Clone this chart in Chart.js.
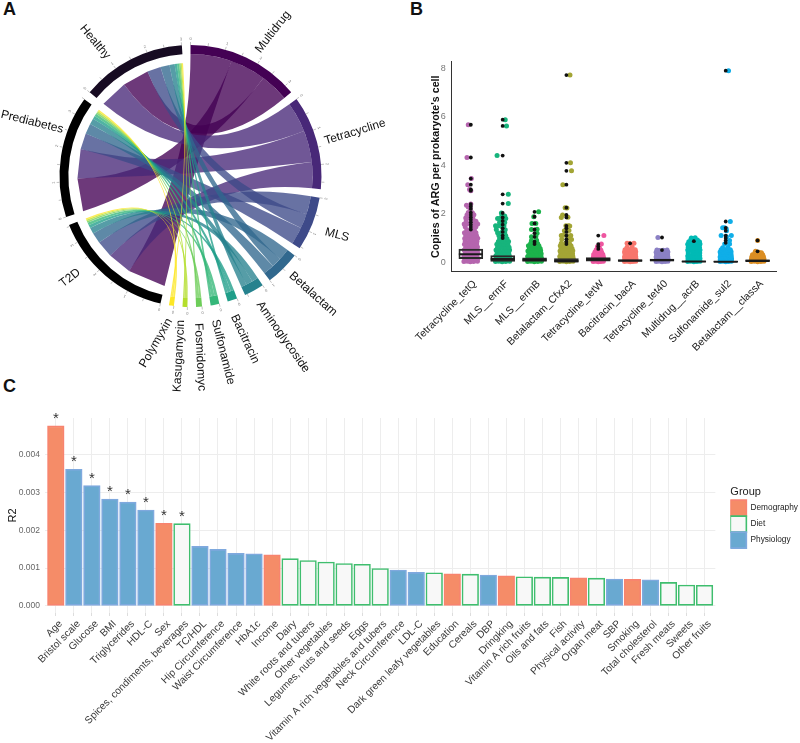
<!DOCTYPE html>
<html>
<head>
<meta charset="utf-8">
<title>ARG figure</title>
<script src="https://cdn.jsdelivr.net/npm/chart.js@4"></script>
<style>
  html, body { margin: 0; padding: 0; background: #fff; }
  body { position: relative; width: 800px; height: 743px; overflow: hidden; font-family: "Liberation Sans", Arial, sans-serif; }
  canvas { position: absolute; }
  .panel { position: absolute; font-size: 18px; font-weight: bold; line-height: 18px; color: #111; }
</style>
</head>
<body>
<div class="panel" style="left:3px;top:0">A</div>
<div class="panel" style="left:410px;top:0">B</div>
<div class="panel" style="left:3px;top:377px">C</div>
<canvas id="chord-chart" width="400" height="400" style="left:0;top:0"></canvas>
<canvas id="arg-chart" width="400" height="330" style="left:400px;top:40px"></canvas>
<canvas id="r2-chart" width="808" height="343" style="left:0;top:400px"></canvas>
<script>
'use strict';

// ------- Panel A data ------- //
const argNames = ['Multidrug', 'Tetracycline', 'MLS', 'Betalactam', 'Aminoglycoside', 'Bacitracin', 'Sulfonamide', 'Fosmidomyc', 'Kasugamycin', 'Polymyxin'];
const groupNames = ['T2D', 'Prediabetes', 'Healthy'];
const t2dLinks = [1.27, 0.8, 0.56, 0.36, 0.2, 0.1, 0.09, 0.06, 0.05, 0.05];
const prediabetesLinks = [1.1, 0.97, 0.54, 0.34, 0.2, 0.1, 0.09, 0.06, 0.05, 0.05];
const healthyLinks = [0.88, 0.93, 0.45, 0.3, 0.17, 0.08, 0.07, 0.05, 0.04, 0.04];
const sectorGap = 0.245;
const argColors = ['#440154', '#482878', '#3E4A89', '#31688E', '#26828E', '#1F9E89', '#35B779', '#6DCD59', '#B4DE2C', '#FDE725'];
const groupColors = ['#000000', '#000000', '#170b22'];

// ------- Panel B data ------- //
const geneNames = ['Tetracycline_tetQ', 'MLS__ermF', 'MLS__ermB', 'Betalactam_CfxA2', 'Tetracycline_tetW', 'Bacitracin_bacA', 'Tetracycline_tet40', 'Multidrug__acrB', 'Sulfonamide_sul2', 'Betalactam__classA'];
const geneColors = ['#B565AE', '#17B47C', '#1CB24B', '#A3A535', '#EE56A0', '#F8766D', '#8B80C4', '#00BAB5', '#0FAEE8', '#DB8E23'];
const boxLow = [0.15, 0.03, 0.03, 0.0, 0.04, 0.04, 0.05, 0.01, 0.01, 0.03];
const boxMedian = [0.33, 0.13, 0.1, 0.05, 0.12, 0.07, 0.09, 0.03, 0.02, 0.06];
const boxHigh = [0.54, 0.27, 0.18, 0.15, 0.19, 0.1, 0.13, 0.04, 0.04, 0.1];

// [jitter, copies], one list per gene
const tetQPoints = [[-.27,.03],[-.14,.04],[-.02,.02],[.11,.03],[.26,.04],[-.24,.14],[-.09,.15],[.05,.13],[.18,.14],[.28,.15],[-.27,.26],[-.13,.27],[.02,.25],[.14,.26],[.24,.27],[-.22,.38],[-.07,.39],[.09,.37],[.2,.38],[.27,.39],[-.26,.5],[-.15,.51],[0,.49],[.12,.5],[.25,.51],[-.2,.62],[-.06,.63],[.07,.61],[.19,.62],[.26,.63],[-.25,.74],[-.12,.75],[.03,.73],[.15,.74],[.23,.75],[-.22,.86],[-.05,.87],[.1,.85],[.24,.86],[-.24,.98],[-.1,.99],[.04,.97],[.17,.98],[.27,.99],[-.2,1.1],[-.03,1.11],[.12,1.09],[.22,1.1],[-.25,1.22],[-.13,1.23],[.06,1.21],[.2,1.22],[-.16,1.34],[-.02,1.35],[.14,1.33],[-.22,1.46],[.02,1.47],[.1,1.45],[.2,1.46],[-.26,1.58],[-.13,1.59],[.15,1.57],[.27,1.58],[-.18,1.7],[.04,1.71],[.2,1.69],[-.2,1.82],[-.12,1.83],[.08,1.81],[-.15,1.95],[-.05,1.94],[.12,1.96],[-.1,2.05],[.06,2.04],[-.17,2.35],[-.1,2.28],[-.02,2.22],[0,2.4],[-.12,3.2],[-.05,3.0],[0,2.95],[.02,3.45],[-.15,4.32],[-.1,5.67]];
const ermFPoints = [[-.28,.03],[-.15,.04],[-.02,.02],[.12,.03],[.27,.04],[-.25,.14],[-.08,.15],[.06,.13],[.18,.14],[.29,.15],[-.27,.26],[-.12,.27],[.02,.25],[.15,.26],[.26,.27],[-.22,.38],[-.06,.39],[.1,.37],[.24,.38],[-.26,.5],[-.13,.51],[.03,.49],[.17,.5],[.27,.51],[-.2,.62],[-.04,.63],[.12,.61],[.25,.62],[-.23,.74],[-.1,.75],[.05,.73],[.2,.74],[-.17,.86],[-.02,.87],[.14,.85],[.23,.86],[-.12,.98],[.03,.99],[.17,.97],[-.15,1.1],[.05,1.11],[.12,1.09],[-.2,1.22],[-.05,1.23],[.08,1.21],[-.25,1.35],[.02,1.36],[.1,1.34],[-.28,1.5],[-.18,1.51],[-.08,1.49],[.05,1.5],[-.12,1.65],[.02,1.66],[.08,1.64],[-.2,1.8],[-.1,1.81],[.05,1.79],[.12,1.8],[-.03,1.92],[.08,1.91],[-.05,2.03],[.22,2.42],[.22,2.8],[-.22,4.4],[.15,5.62],[.1,5.88]];
const ermBPoints = [[-.27,.03],[-.14,.04],[-.01,.02],[.13,.03],[.27,.04],[-.25,.13],[-.08,.14],[.06,.12],[.2,.13],[.28,.14],[-.27,.24],[-.12,.25],[.02,.23],[.16,.24],[.25,.25],[-.22,.35],[-.05,.36],[.1,.34],[.26,.35],[-.26,.46],[-.14,.47],[.03,.45],[.18,.46],[.24,.47],[-.2,.57],[-.06,.58],[.1,.56],[.22,.57],[-.24,.68],[-.1,.69],[.05,.67],[.17,.68],[-.15,.78],[.03,.79],[.12,.77],[-.12,.9],[.08,.91],[-.12,1.05],[.05,1.06],[.1,1.2],[-.12,1.35],[.1,1.36],[-.1,1.6],[.05,1.6],[-.03,1.88],[.16,2.08]];
const cfxA2Points = [[-.26,.03],[-.13,.04],[0,.02],[.13,.03],[.26,.04],[-.24,.13],[-.09,.14],[.05,.12],[.18,.13],[.27,.14],[-.26,.24],[-.12,.25],[.02,.23],[.15,.24],[.25,.25],[-.22,.35],[-.05,.36],[.09,.34],[.24,.35],[-.25,.46],[-.13,.47],[.03,.45],[.17,.46],[.25,.47],[-.21,.57],[-.05,.58],[.1,.56],[.22,.57],[-.24,.68],[-.1,.69],[.05,.67],[.18,.68],[-.2,.78],[-.03,.79],[.12,.77],[-.18,.95],[.12,.96],[.2,.94],[-.2,1.1],[-.1,1.11],[.05,1.09],[.17,1.1],[-.08,1.3],[.1,1.31],[-.02,1.5],[.08,1.51],[.13,1.49],[-.2,1.85],[.06,1.86],[-.15,1.95],[-.05,2.25],[.02,2.24],[-.14,3.2],[.2,3.77],[.16,4.1],[.14,7.72]];
const tetWPoints = [[-.2,.03],[-.1,.04],[0,.02],[.1,.03],[.2,.04],[-.21,.12],[-.07,.13],[.05,.11],[.16,.12],[.22,.13],[-.19,.22],[-.1,.23],[.02,.21],[.12,.22],[.2,.23],[-.18,.32],[-.05,.33],[.08,.31],[.18,.32],[-.13,.42],[0,.43],[.13,.41],[-.08,.52],[.05,.53],[.1,.51],[-.02,.6],[.04,.61],[-.03,.65],[.12,.75],[.22,1.1]];
const bacAPoints = [[-.22,.03],[-.11,.04],[0,.02],[.11,.03],[.22,.04],[-.21,.12],[-.07,.13],[.05,.11],[.16,.12],[.23,.13],[-.22,.22],[-.1,.23],[.02,.21],[.13,.22],[.22,.23],[-.2,.32],[-.05,.33],[.08,.31],[.21,.32],[-.22,.42],[-.11,.43],[.03,.41],[.14,.42],[.22,.43],[-.2,.52],[-.06,.53],[.08,.51],[.2,.52],[-.12,.62],[.08,.63],[-.12,.78],[-.02,.77],[.15,.78]];
const tet40Points = [[-.23,.03],[-.12,.04],[0,.02],[.12,.03],[.23,.04],[-.22,.12],[-.07,.13],[.05,.11],[.16,.12],[.24,.13],[-.23,.22],[-.1,.23],[.02,.21],[.13,.22],[.23,.23],[-.21,.32],[-.05,.33],[.08,.31],[.22,.32],[-.23,.41],[-.11,.42],[.03,.4],[.14,.41],[.23,.42],[-.2,.5],[-.1,.48],[.05,.49],[.2,.5],[-.16,1.02]];
const acrBPoints = [[-.24,.03],[-.12,.04],[0,.02],[.12,.03],[.24,.04],[-.23,.14],[-.07,.15],[.05,.13],[.16,.14],[.24,.15],[-.24,.26],[-.1,.27],[.02,.25],[.13,.26],[.23,.27],[-.22,.38],[-.05,.39],[.08,.37],[.23,.38],[-.24,.5],[-.11,.51],[.03,.49],[.14,.5],[.24,.51],[-.22,.62],[-.06,.63],[.08,.61],[.22,.62],[-.24,.74],[-.1,.75],[.05,.73],[.16,.74],[.24,.75],[-.2,.85],[-.07,.86],[.1,.84],[.22,.85],[-.12,.93],[.02,.94],[.14,.92],[-.1,1.0],[.05,1.01]];
const sul2Points = [[-.22,.03],[-.11,.04],[0,.02],[.11,.03],[.22,.04],[-.21,.12],[-.07,.13],[.05,.11],[.16,.12],[.23,.13],[-.22,.22],[-.1,.23],[.02,.21],[.13,.22],[.22,.23],[-.2,.32],[-.05,.33],[.08,.31],[.21,.32],[-.22,.42],[-.11,.43],[.03,.41],[.14,.42],[.21,.43],[-.18,.52],[-.06,.53],[.08,.51],[.18,.52],[-.12,.6],[.08,.61],[-.04,.75],[.15,.75],[.15,.9],[-.18,1.1],[.03,1.05],[.22,1.1],[.03,1.3],[-.12,1.42],[-.04,1.42],[.02,1.38],[.18,1.68],[.11,7.9]];
const classAPoints = [[-.25,.03],[-.13,.04],[0,.02],[.13,.03],[.25,.04],[-.24,.12],[-.08,.13],[.05,.11],[.17,.12],[.25,.13],[-.23,.22],[-.1,.23],[.02,.21],[.13,.22],[.23,.23],[-.2,.31],[-.05,.32],[.08,.3],[.2,.31],[-.1,.4],[.05,.41],[.15,.39],[-.08,.45],[0,.9]];
const genePoints = [tetQPoints, ermFPoints, ermBPoints, cfxA2Points, tetWPoints, bacAPoints, tet40Points, acrBPoints, sul2Points, classAPoints];

const geneOutliers = [
  [5.67, 4.32, 3.45, 3.2, 3.0, 2.95, 2.4, 2.3, 2.2, 2.05, 1.95, 1.85, 1.75, 1.65, 1.55, 1.45, 1.35],
  [5.88, 5.62, 4.4, 2.8, 2.42, 2.03, 1.85, 1.7, 1.55, 1.4, 1.25, 1.1, 1.0],
  [2.08, 1.88, 1.6, 1.35, 1.2, 1.05, 0.85, 0.75],
  [7.72, 4.1, 3.77, 3.2, 2.25, 1.95, 1.85, 1.5, 1.4, 1.25, 1.1, 0.95, 0.85, 0.75],
  [1.1, 0.75, 0.65, 0.55],
  [0.78],
  [1.02, 0.5],
  [0.87],
  [7.9, 1.68, 1.42, 1.3, 1.1, 1.0, 0.9, 0.8],
  [0.9, 0.45],
];

// ------- Panel C data ------- //
const factorNames = ['Age', 'Bristol scale', 'Glucose', 'BMI', 'Triglycerides', 'HDL-C', 'Sex', 'Spices, condiments, beverages', 'TC/HDL', 'Hip Circumference', 'Waist Circumference', 'HbA1c', 'Income', 'Dairy', 'White roots and tubers', 'Other vegetables', 'Legumes, nuts and seeds', 'Eggs', 'Vitamin A rich vegetables and tubers', 'Neck Circumference', 'LDL-C', 'Dark green leafy vegetables', 'Education', 'Cereals', 'DBP', 'Dringking', 'Vitamin A rich fruits', 'Oils and fats', 'Fish', 'Physical activity', 'Organ meat', 'SBP', 'Smoking', 'Total cholesterol', 'Fresh meats', 'Sweets', 'Other fruits'];
const factorR2 = [0.00477, 0.00362, 0.00319, 0.00283, 0.00275, 0.00254, 0.00219, 0.00218, 0.001575, 0.001495, 0.00139, 0.00138, 0.001355, 0.00125, 0.0012, 0.00116, 0.00112, 0.0011, 0.00099, 0.00095, 0.000885, 0.000875, 0.00085, 0.00084, 0.000815, 0.000795, 0.00077, 0.00076, 0.000755, 0.000745, 0.000735, 0.00071, 0.0007, 0.00069, 0.00062, 0.00055, 0.000545];
const factorGroups = ['Demography', 'Physiology', 'Physiology', 'Physiology', 'Physiology', 'Physiology', 'Demography', 'Diet', 'Physiology', 'Physiology', 'Physiology', 'Physiology', 'Demography', 'Diet', 'Diet', 'Diet', 'Diet', 'Diet', 'Diet', 'Physiology', 'Physiology', 'Diet', 'Demography', 'Diet', 'Physiology', 'Demography', 'Diet', 'Diet', 'Diet', 'Demography', 'Diet', 'Physiology', 'Demography', 'Physiology', 'Diet', 'Diet', 'Diet'];
const significantCount = 8;
const r2Ticks = [0, 0.001, 0.002, 0.003, 0.004];
const copiesTicks = [0, 2, 4, 6, 8];

Chart.defaults.font.family = '"Liberation Sans", Arial, sans-serif';
Chart.defaults.animation = false;
Chart.defaults.events = [];
Chart.defaults.plugins.tooltip.enabled = false;
Chart.defaults.plugins.legend.display = false;

const range = (n) => Array.from({ length: n }, (_, i) => i);

// ------- Chord Chart ------- //
const argValues = argNames.map((_, i) => t2dLinks[i] + prediabetesLinks[i] + healthyLinks[i]);
const sum = (list) => list.reduce((a, b) => a + b, 0);
const groupValues = [sum(t2dLinks), sum(prediabetesLinks), sum(healthyLinks)];
const sectorNames = argNames.concat(groupNames);
const sectorValues = argValues.concat(groupValues);
const sectorColors = argColors.concat(groupColors);
const groupLinks = [t2dLinks, prediabetesLinks, healthyLinks];

// clockwise order of ribbons inside each sector (indexes into groupNames / argNames)
const argSideOrder = [[0, 1, 2], [2, 1, 0], [0, 2, 1], [0, 2, 1], [0, 1, 2], [0, 1, 2], [0, 1, 2], [0, 1, 2], [0, 1, 2], [0, 1, 2]];
const groupSideOrder = [range(10), range(10), [1, 0, 2, 3, 4, 5, 6, 7, 8, 9]];

// label centre and rotation for each sector name
const sectorLabels = {
  Multidrug: [273, 32, -52], Tetracycline: [355, 132, -17], MLS: [337, 235, 15], Betalactam: [313, 294, 42],
  Aminoglycoside: [283, 337, 55], Bacitracin: [245, 339, 65], Sulfonamide: [223, 352, 76], Fosmidomyc: [200, 357, 87],
  Kasugamycin: [179, 356, -87], Polymyxin: [156, 343, -60], T2D: [70, 278, -38], Prediabetes: [32, 122, 14], Healthy: [95, 42, 50],
};

const chordPlugin = {
  id: 'chordRibbons',
  beforeDatasetsDraw(chart) {
    const arcs = chart.getDatasetMeta(0).data;
    const { ctx } = chart;
    const cx = arcs[0].x;
    const cy = arcs[0].y;
    const rInner = arcs[0].innerRadius;
    const rShort = rInner - 9;
    const unitAngle = (arcs[0].endAngle - arcs[0].startAngle) / sectorValues[0];

    const argSpans = argNames.map((_, a) => {
      let at = arcs[a * 2].startAngle;
      const spans = {};
      argSideOrder[a].forEach((g) => {
        spans[g] = [at, at + groupLinks[g][a] * unitAngle];
        at = spans[g][1];
      });
      return spans;
    });

    ctx.save();
    groupNames.forEach((_, g) => {
      let at = arcs[(argNames.length + g) * 2].startAngle;
      groupSideOrder[g].forEach((a) => {
        const next = at + groupLinks[g][a] * unitAngle;
        const [a0, a1] = argSpans[a][g];
        ctx.beginPath();
        ctx.arc(cx, cy, rInner, a0, a1);
        ctx.quadraticCurveTo(cx, cy, cx + rShort * Math.cos(at), cy + rShort * Math.sin(at));
        // flat end on the group side, gives the stepped edge of the reference
        ctx.lineTo(cx + rShort * Math.cos(next), cy + rShort * Math.sin(next));
        ctx.quadraticCurveTo(cx, cy, cx + rInner * Math.cos(a0), cy + rInner * Math.sin(a0));
        ctx.closePath();
        ctx.globalAlpha = 0.78;
        ctx.fillStyle = argColors[a];
        ctx.fill();
        at = next;
      });
    });
    ctx.restore();
  },
  afterDatasetsDraw(chart) {
    const arcs = chart.getDatasetMeta(0).data;
    const { ctx } = chart;
    const cx = arcs[0].x;
    const cy = arcs[0].y;
    const rOuter = arcs[0].outerRadius;
    const unitAngle = (arcs[0].endAngle - arcs[0].startAngle) / sectorValues[0];

    ctx.save();
    sectorNames.forEach((name, s) => {
      const start = arcs[s * 2].startAngle;
      // axis ticks, every half unit with a number on the whole ones
      for (let v = 0; v <= sectorValues[s]; v += 0.5) {
        const angle = start + v * unitAngle;
        ctx.strokeStyle = '#999';
        ctx.lineWidth = 0.6;
        ctx.beginPath();
        ctx.moveTo(cx + rOuter * Math.cos(angle), cy + rOuter * Math.sin(angle));
        ctx.lineTo(cx + (rOuter + 3) * Math.cos(angle), cy + (rOuter + 3) * Math.sin(angle));
        ctx.stroke();
        if (v % 1 === 0) {
          ctx.save();
          ctx.translate(cx + (rOuter + 6) * Math.cos(angle), cy + (rOuter + 6) * Math.sin(angle));
          ctx.rotate(angle + Math.PI / 2);
          ctx.fillStyle = '#777';
          ctx.font = '4px "Liberation Sans"';
          ctx.textAlign = 'center';
          ctx.textBaseline = 'middle';
          ctx.fillText(String(v), 0, 0);
          ctx.restore();
        }
      }
      const [lx, ly, rot] = sectorLabels[name];
      ctx.save();
      ctx.translate(lx, ly);
      ctx.rotate(rot * Math.PI / 180);
      ctx.fillStyle = '#111';
      ctx.font = '12px "Liberation Sans"';
      ctx.textAlign = 'center';
      ctx.textBaseline = 'middle';
      ctx.fillText(name, 0, 0);
      ctx.restore();
    });
    ctx.restore();
  },
};

new Chart(document.getElementById('chord-chart'), {
  type: 'doughnut',
  data: {
    labels: sectorNames.flatMap((name) => [name, '']),
    datasets: [
      {
        data: sectorValues.flatMap((value) => [value, sectorGap]),
        backgroundColor: sectorColors.flatMap((color) => [color, 'rgba(0,0,0,0)']),
        borderWidth: 0,
      },
    ],
  },
  options: {
    responsive: false,
    radius: 131,
    cutout: '93.2%',
    layout: { padding: { right: 19, bottom: 48 } },
  },
  plugins: [chordPlugin],
});

// ------- Gene Copies Chart ------- //
const jitterWidth = 0.8;
const geneDatasets = [];
genePoints.forEach((points, g) => {
  geneDatasets.push({
    data: points.map(([jitter, copies]) => ({ x: g + jitter * jitterWidth, y: copies })),
    backgroundColor: geneColors[g],
    pointRadius: 2.5,
    pointBorderWidth: 0,
    order: 4,
  });
});
geneDatasets.push({
  type: 'bar',
  data: range(10).map((g) => ({ x: g, y: [boxLow[g], boxHigh[g]] })),
  backgroundColor: 'rgba(0,0,0,0)',
  borderColor: '#2a2a2a',
  borderWidth: 1.2,
  borderSkipped: false,
  barThickness: 24,
  order: 3,
});
geneDatasets.push({
  data: range(10).map((g) => ({ x: g, y: boxMedian[g] })),
  pointStyle: 'line',
  pointRadius: 12,
  pointBorderWidth: 2.2,
  borderColor: '#1a1a1a',
  order: 2,
});
geneDatasets.push({
  data: geneOutliers.flatMap((list, g) => list.map((copies) => ({ x: g, y: copies }))),
  backgroundColor: '#111',
  pointRadius: 1.9,
  pointBorderWidth: 0,
  order: 1,
});

new Chart(document.getElementById('arg-chart'), {
  type: 'scatter',
  data: { datasets: geneDatasets },
  options: {
    responsive: false,
    layout: { padding: { right: 23.3, top: 21.7 } },
    scales: {
      x: {
        type: 'linear',
        offset: false,
        min: -0.6,
        max: 9.6,
        afterBuildTicks: (axis) => { axis.ticks = range(10).map((value) => ({ value })); },
        afterFit: (axis) => { axis.height = 98.3; },
        grid: { display: false, offset: false, drawTicks: true, tickLength: 3, tickColor: '#444' },
        border: { display: true, color: '#333', width: 1 },
        ticks: {
          autoSkip: false,
          minRotation: 45,
          maxRotation: 45,
          padding: 3,
          labelOffset: 4,
          color: '#222',
          font: { size: 10.5 },
          callback: (value) => geneNames[value],
        },
      },
      y: {
        min: -0.39,
        max: 8.27,
        afterBuildTicks: (axis) => { axis.ticks = copiesTicks.map((value) => ({ value })); },
        afterFit: (axis) => { axis.width = 51.7; },
        grid: { display: false, drawTicks: true, tickLength: 3, tickColor: '#444' },
        border: { display: true, color: '#333', width: 1 },
        ticks: { color: '#777', font: { size: 9 }, padding: 3 },
        title: {
          display: true,
          text: "Copies of ARG per prokaryote's cell",
          color: '#111',
          font: { size: 10.7, weight: 'bold' },
          padding: { top: 30, bottom: 0 },
        },
      },
    },
  },
});

// ------- R2 Bar Chart ------- //
const groupStyles = {
  Demography: { fill: '#F58C68', line: '#F8836F' },
  Diet: { fill: '#F8F8F8', line: '#3FBE6E' },
  Physiology: { fill: '#69A9D1', line: '#7FA9DE' },
};

const starPlugin = {
  id: 'significanceStars',
  afterDatasetsDraw(chart) {
    const { ctx } = chart;
    ctx.save();
    ctx.fillStyle = '#333';
    ctx.font = '15px "Liberation Sans"';
    ctx.textAlign = 'center';
    ctx.textBaseline = 'alphabetic';
    chart.data.datasets.forEach((dataset, d) => {
      chart.getDatasetMeta(d).data.forEach((bar, i) => {
        if (dataset.data[i].x < significantCount) {
          ctx.fillText('*', bar.x, bar.y - 3);
        }
      });
    });
    ctx.restore();
  },
};

new Chart(document.getElementById('r2-chart'), {
  type: 'bar',
  data: {
    datasets: Object.keys(groupStyles).map((group) => ({
      label: group,
      data: range(factorNames.length)
        .filter((i) => factorGroups[i] === group)
        .map((i) => ({ x: i, y: factorR2[i] })),
      backgroundColor: groupStyles[group].fill,
      borderColor: groupStyles[group].line,
      borderWidth: 1.6,
      borderSkipped: false,
      barThickness: 16.6,
      grouped: false,
    })),
  },
  options: {
    responsive: false,
    layout: { padding: { top: 18 } },
    scales: {
      x: {
        type: 'linear',
        offset: false,
        min: -0.6,
        max: 36.6,
        afterBuildTicks: (axis) => { axis.ticks = range(factorNames.length).map((value) => ({ value })); },
        afterFit: (axis) => { axis.height = 130; },
        grid: { color: '#EDEDED', offset: false, tickColor: '#DDD', tickLength: 3 },
        border: { display: false },
        ticks: {
          autoSkip: false,
          minRotation: 45,
          maxRotation: 45,
          padding: 2,
          labelOffset: 5,
          color: '#3a3a3a',
          font: { size: 10.2 },
          callback: (value) => factorNames[value],
        },
      },
      y: {
        min: -0.00019,
        max: 0.00498,
        afterBuildTicks: (axis) => { axis.ticks = r2Ticks.map((value) => ({ value })); },
        afterFit: (axis) => { axis.width = 45; },
        grid: { color: '#EDEDED', drawTicks: false },
        border: { display: false },
        ticks: { color: '#666', font: { size: 8.5 }, padding: 5, callback: (value) => value.toFixed(3) },
        title: { display: true, text: 'R2', color: '#111', font: { size: 11 }, padding: { top: 6, bottom: 0 } },
      },
      spacer: {
        position: 'right',
        afterFit: (axis) => { axis.width = 15; },
        grid: { display: false },
        border: { display: false },
        ticks: { display: false },
      },
    },
    plugins: {
      legend: {
        display: true,
        position: 'right',
        fullSize: false,
        title: { display: true, text: 'Group', color: '#222', font: { size: 11 }, position: 'start', padding: { top: 4, bottom: 0 } },
        labels: { boxWidth: 16, boxHeight: 16, padding: 0, color: '#222', font: { size: 8.3 } },
      },
    },
  },
  plugins: [starPlugin],
});
</script>
</body>
</html>
